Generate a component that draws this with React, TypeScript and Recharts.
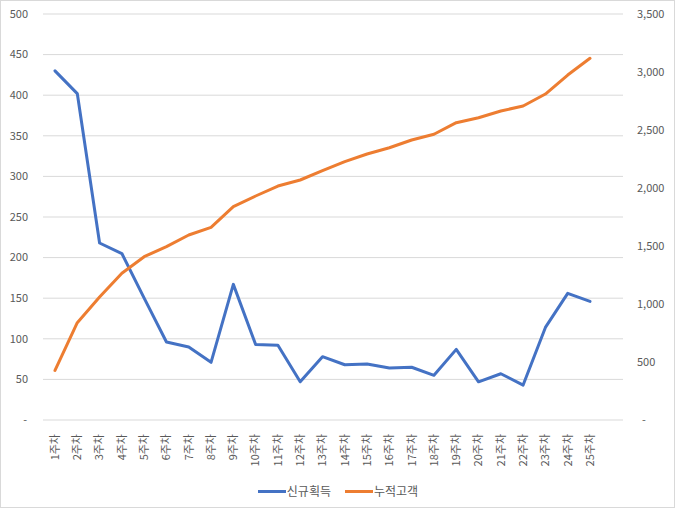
import React from "react";
import { LineChart, Line, XAxis, YAxis, CartesianGrid, Legend } from "recharts";

const weeks = [
  "1주차","2주차","3주차","4주차","5주차","6주차","7주차","8주차","9주차","10주차",
  "11주차","12주차","13주차","14주차","15주차","16주차","17주차","18주차","19주차","20주차",
  "21주차","22주차","23주차","24주차","25주차",
];
const newCustomers = [430, 402, 218, 205, 150, 96, 90, 71, 167, 93, 92, 47, 78, 68, 69, 64, 65, 55, 87, 47, 57, 43, 114, 156, 146];
const totalCustomers = [427, 839, 1060, 1265, 1408, 1494, 1595, 1661, 1839, 1931, 2017, 2069, 2149, 2227, 2293, 2347, 2414, 2463, 2563, 2606, 2664, 2707, 2810, 2974, 3118];
const leftTicks = [0, 50, 100, 150, 200, 250, 300, 350, 400, 450, 500];
const rightTicks = [0, 500, 1000, 1500, 2000, 2500, 3000, 3500];

const data = weeks.map((w, i) => ({ week: w, a: newCustomers[i], b: totalCustomers[i] }));

const FONT = "'Noto Sans CJK KR', 'Noto Sans', sans-serif";
const TXT = "#595959";

const fmt = (v: number) => (v === 0 ? "-" : v.toLocaleString("en-US"));

const LeftTick = (p: any) => {
  const v = p.payload.value;
  return (
    <text x={p.x - 13 - (v === 0 ? 1 : 0)} y={p.y} dy="0.35em" textAnchor="end" fill={TXT} fontSize={11} fontFamily={FONT}>
      {fmt(v)}
    </text>
  );
};

const RightTick = (p: any) => {
  const v = p.payload.value;
  return (
    <text x={p.x + 12 + (v === 0 ? 5 : 0)} y={p.y} dy="0.35em" textAnchor="start" fill={TXT} fontSize={11} fontFamily={FONT}>
      {fmt(v)}
    </text>
  );
};

const XTick = (p: any) => (
  <text
    transform={`translate(${p.x},${p.y + 12}) rotate(-90)`}
    dy="0.35em"
    textAnchor="end"
    fill={TXT}
    fontSize={11}
    fontFamily={FONT}
  >
    {p.payload.value}
  </text>
);

const LegendContent = () => (
  <div style={{ height: 29, display: "flex", alignItems: "flex-end", justifyContent: "center", fontFamily: FONT, fontSize: 12, color: TXT }}>
    {[
      { name: "신규획득", color: "#4472C4" },
      { name: "누적고객", color: "#ED7D31" },
    ].map((it, i) => (
      <div key={i} style={{ display: "flex", alignItems: "center", height: 16, marginLeft: i ? 14 : 0 }}>
        <span style={{ display: "inline-block", width: 28, height: 3, background: it.color, marginRight: 1 }} />
        <span style={{ lineHeight: "16px" }}>{it.name}</span>
      </div>
    ))}
  </div>
);

export default function App() {
  return (
    <div style={{ position: "fixed", left: 0, top: 0, width: 676, height: 509, background: "#fff" }}>
      <div style={{ position: "absolute", left: 0, top: 0, width: 675, height: 508, boxSizing: "border-box", border: "1px solid #d9d9d9" }} />
      <LineChart width={676} height={509} data={data} margin={{ top: 14, right: 0, left: 0, bottom: 10 }}>
        <CartesianGrid yAxisId="left" vertical={false} stroke="#d9d9d9" strokeWidth={1} />
        <XAxis
          dataKey="week"
          interval={0}
          height={50}
          axisLine={false}
          tickLine={false}
          tickSize={0}
          padding={{ left: 12, right: 33 }}
          tick={<XTick />}
        />
        <YAxis
          yAxisId="left"
          width={43}
          domain={[0, 500]}
          ticks={leftTicks}
          axisLine={false}
          tickLine={false}
          tickSize={0}
          tick={<LeftTick />}
        />
        <YAxis
          yAxisId="right"
          orientation="right"
          width={53}
          domain={[0, 3500]}
          ticks={rightTicks}
          axisLine={false}
          tickLine={false}
          tickSize={0}
          tick={<RightTick />}
        />
        <Legend verticalAlign="bottom" content={<LegendContent />} />
        <Line yAxisId="left" type="linear" dataKey="a" name="신규획득" stroke="#4472C4" strokeWidth={3} dot={false} strokeLinejoin="round" strokeLinecap="round" isAnimationActive={false} />
        <Line yAxisId="right" type="linear" dataKey="b" name="누적고객" stroke="#ED7D31" strokeWidth={3} dot={false} strokeLinejoin="round" strokeLinecap="round" isAnimationActive={false} />
      </LineChart>
    </div>
  );
}
